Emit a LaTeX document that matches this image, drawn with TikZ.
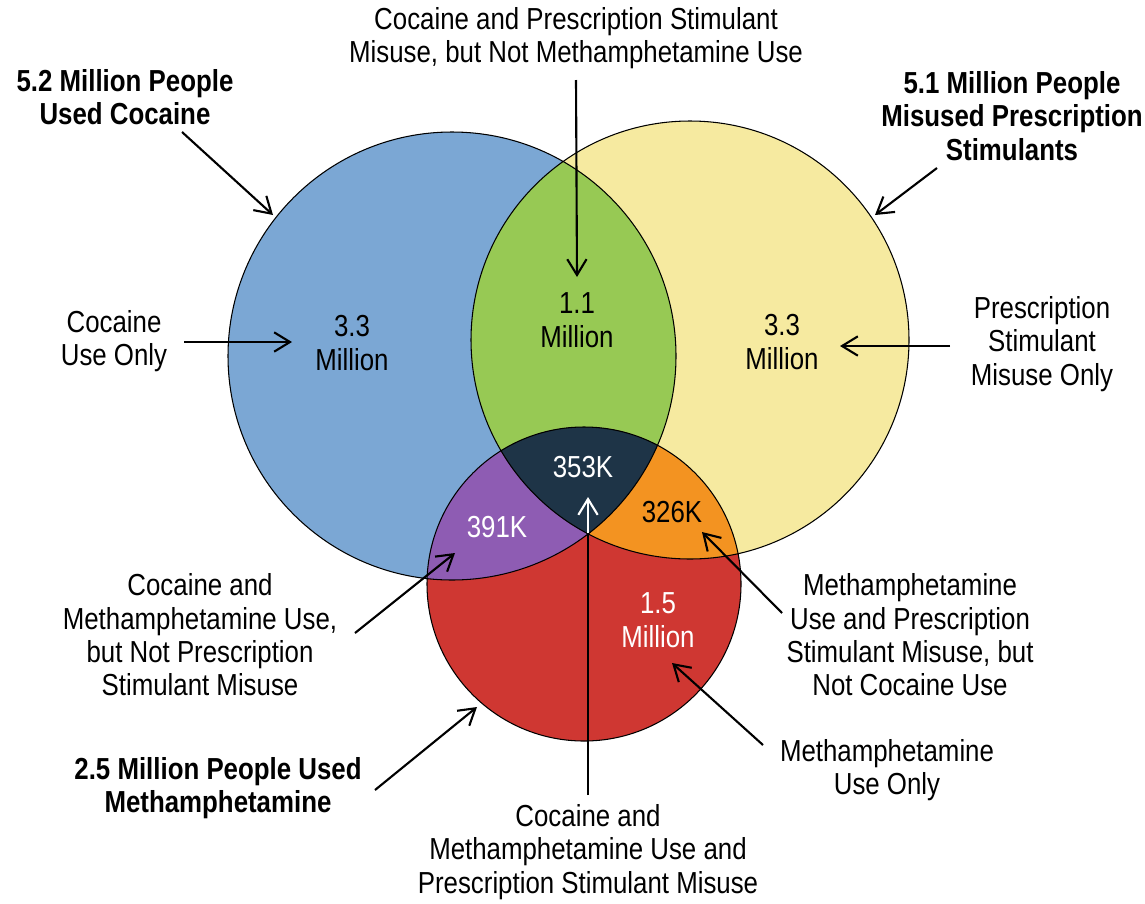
\documentclass[tikz,border=0pt]{standalone}
\usepackage{fontspec}
\setmainfont{Liberation Sans}[FakeStretch=0.85]
\usetikzlibrary{arrows.meta}
\definecolor{cocblue}{RGB}{123,167,212}
\definecolor{rxyellow}{RGB}{246,234,160}
\definecolor{bothgreen}{RGB}{151,201,84}
\definecolor{allnavy}{RGB}{30,52,71}
\definecolor{cmpurple}{RGB}{142,92,179}
\definecolor{mrorange}{RGB}{243,147,33}
\definecolor{methred}{RGB}{207,55,50}
\begin{document}
\begin{tikzpicture}[x=0.02cm,y=-0.02cm,
 lbl/.style={align=center,font=\fontsize{17.3}{19}\selectfont,inner sep=0pt},
 boldlbl/.style={lbl,font=\fontsize{17.3}{19}\selectfont\bfseries},
 ptr/.style={-{Straight Barb[length=9pt,width=11pt]},line width=1.2pt},
 rim/.style={line width=0.6pt}]
\useasboundingbox (0,0) rectangle (1145,903);
\coordinate (cC) at (452,356);
\coordinate (cP) at (690,340);
\coordinate (cM) at (584,584);
\fill[cocblue] (cC) circle (224);
\fill[rxyellow] (cP) circle (219);
\begin{scope}
 \clip (cC) circle (224);
 \fill[bothgreen] (cP) circle (219);
\end{scope}
\fill[methred] (cM) circle (157);
\begin{scope}
 \clip (cM) circle (157);
 \fill[cmpurple] (cC) circle (224);
 \fill[mrorange] (cP) circle (219);
 \clip (cC) circle (224);
 \fill[allnavy] (cP) circle (219);
\end{scope}
\draw[rim] (cC) circle (224) (cP) circle (219) (cM) circle (157);

\node[lbl] (topLbl) at (576,38) {Cocaine and Prescription Stimulant\\Misuse, but Not Methamphetamine Use};
\node[boldlbl] (cocLbl) at (125,97) {5.2 Million People\\Used Cocaine};
\node[boldlbl] (rxLbl) at (1012,116) {5.1 Million People\\Misused Prescription\\Stimulants};
\node[lbl] (cocOnly) at (114,341) {Cocaine\\Use Only};
\node[lbl] (rxOnly) at (1042,344) {Prescription\\Stimulant\\Misuse Only};
\node[lbl] (cmLbl) at (200,635) {Cocaine and\\Methamphetamine Use,\\but Not Prescription\\Stimulant Misuse};
\node[boldlbl] (methLbl) at (218,788) {2.5 Million People Used\\Methamphetamine};
\node[lbl] (mrLbl) at (910,635) {Methamphetamine\\Use and Prescription\\Stimulant Misuse, but\\Not Cocaine Use};
\node[lbl] (methOnly) at (887,770) {Methamphetamine\\Use Only};
\node[lbl] (allLbl) at (588,852) {Cocaine and\\Methamphetamine Use and\\Prescription Stimulant Misuse};

\node[lbl] (cocNum) at (352,343) {3.3\\Million};
\node[lbl] (bothNum) at (577,320) {1.1\\Million};
\node[lbl] (rxNum) at (782,342) {3.3\\Million};
\node[lbl,text=white] (allNum) at (583,467) {353K};
\node[lbl,text=white] (cmNum) at (497,527) {391K};
\node[lbl] (mrNum) at (672,512) {326K};
\node[lbl,text=white] (methNum) at (658,620) {1.5\\Million};

\coordinate (topTail) at (576,80);
\coordinate (topTip) at (577,277);
\coordinate (cocTail) at (182,132);
\coordinate (cocTip) at (273,215);
\coordinate (rxTail) at (937,168);
\coordinate (rxTip) at (875,215);
\coordinate (cocOnlyTail) at (184,342);
\coordinate (cocOnlyTip) at (292,342);
\coordinate (rxOnlyTail) at (950,346);
\coordinate (rxOnlyTip) at (840,346);
\coordinate (cmTail) at (355,633);
\coordinate (cmTip) at (455,553);
\coordinate (methTail) at (375,790);
\coordinate (methTip) at (477,707);
\coordinate (mrTail) at (782,613);
\coordinate (mrTip) at (702,532);
\coordinate (methOnlyTail) at (763,745);
\coordinate (methOnlyTip) at (672,663);
\coordinate (allTail) at (588,795);
\coordinate (triple) at (588,533);
\coordinate (allTip) at (588,497);

\draw[ptr] (topTail) -- (topTip);
\draw[ptr] (cocTail) -- (cocTip);
\draw[ptr] (rxTail) -- (rxTip);
\draw[ptr] (cocOnlyTail) -- (cocOnlyTip);
\draw[ptr] (rxOnlyTail) -- (rxOnlyTip);
\draw[ptr] (cmTail) -- (cmTip);
\draw[ptr] (methTail) -- (methTip);
\draw[ptr] (mrTail) -- (mrTip);
\draw[ptr] (methOnlyTail) -- (methOnlyTip);
\draw[line width=1.2pt] (allTail) -- (triple);
\draw[ptr,white] (triple) -- (allTip);
\end{tikzpicture}
\end{document}
